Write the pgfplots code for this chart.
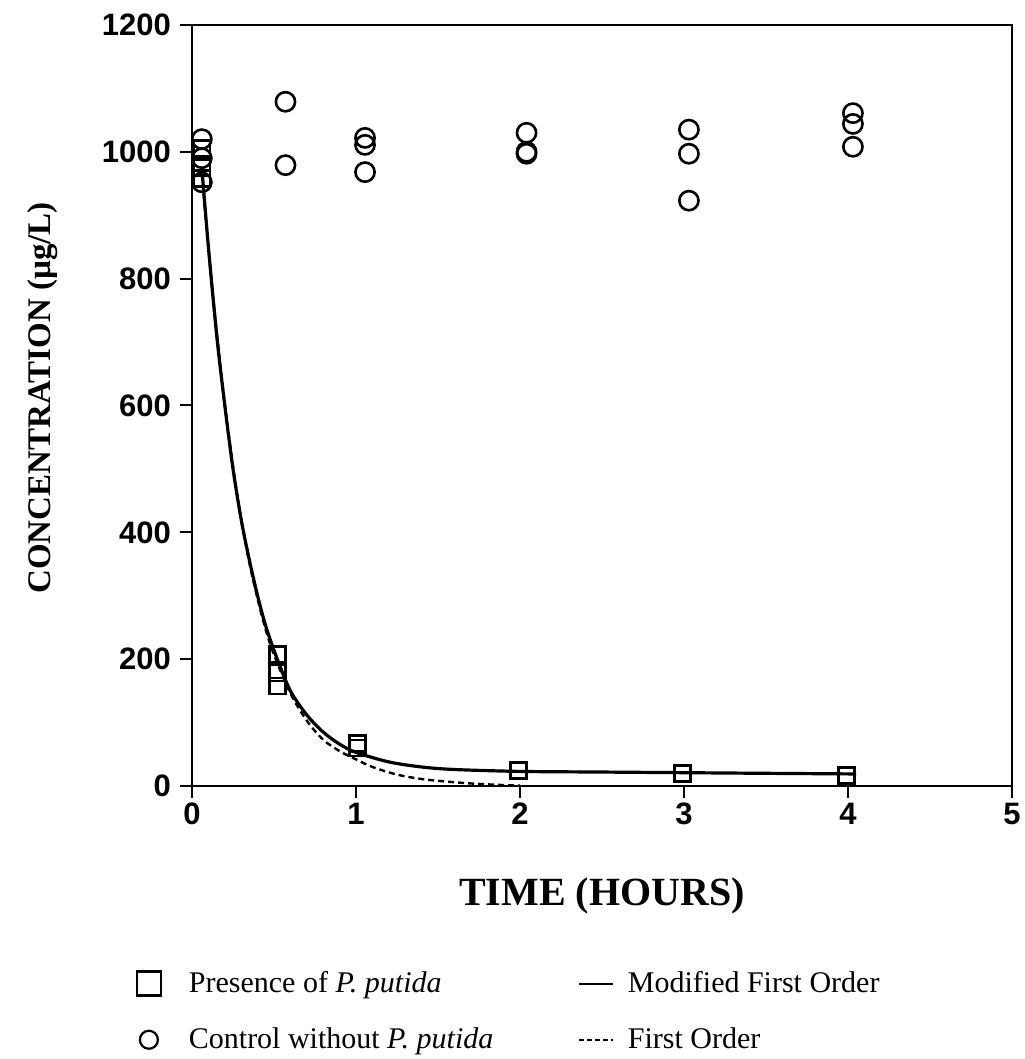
\documentclass[border=0pt]{standalone}
\usepackage{pgfplots}
\pgfplotsset{compat=1.18}
\usepackage{fontspec}
\setmainfont{Liberation Serif}
\newfontfamily\tickfont{Liberation Sans}
\begin{document}
\begin{tikzpicture}
\begin{axis}[
  scale only axis,
  width=410pt, height=380.5pt,
  xmin=0, xmax=5, ymin=0, ymax=1200,
  xtick={0,1,2,3,4,5}, ytick={0,200,400,600,800,1000,1200},
  tick pos=left, tick align=outside,
  major tick length=6pt,
  axis line style={line width=1pt},
  major tick style={line width=1pt, black},
  /pgf/number format/assume math mode=true,
  /pgf/number format/1000 sep={},
  ticklabel style={font=\tickfont\bfseries\fontsize{15.5}{15.5}\selectfont},
  xticklabel style={yshift=1pt},
  yticklabel style={xshift=-1pt},
  xlabel={TIME (HOURS)},
  ylabel={CONCENTRATION (µg/L)},
  xlabel style={font=\bfseries\fontsize{20}{20}\selectfont, at={(axis description cs:0.5,-0.145)}, anchor=center},
  ylabel style={font=\bfseries\fontsize{16.5}{16.5}\selectfont, at={(axis description cs:-0.182,0.51)}, anchor=center},
  legend columns=2,
  legend cell align=left,
  legend style={draw=none, fill=none, at={(axis description cs:-0.075,-0.233)}, anchor=north west,
    font=\fontsize{15}{15}\selectfont, row sep=12pt,
    /tikz/column 1/.style={column sep=12pt},
    /tikz/column 2/.style={column sep=40pt},
    /tikz/column 3/.style={column sep=5pt}},
  clip=false,
]
% Presence of P. putida (squares)
\addplot[only marks, mark=square, mark size=4pt, mark options={line width=1.3pt}, forget plot] coordinates {
 (0.06,1005) (0.06,975) (0.06,958)
 (0.52,207) (0.52,178) (0.52,158)
 (1.01,67) (1.01,60)
 (1.99,24) (2.99,20) (3.99,17)
};
% Control without P. putida (circles)
\addplot[only marks, mark=o, mark size=4.8pt, mark options={line width=1.3pt}, forget plot] coordinates {
 (0.06,1020) (0.06,990) (0.06,952)
 (0.57,1079) (0.57,979)
 (1.055,1022) (1.055,1011) (1.055,968)
 (2.04,1030) (2.04,1000) (2.04,997)
 (3.03,1035) (3.03,997) (3.03,923)
 (4.03,1061) (4.03,1044) (4.03,1008)
};
% Modified first order (solid)
\addplot[smooth, line width=1.6pt, no marks, forget plot] coordinates {
 (0.06,975) (0.10,850) (0.15,712) (0.20,600) (0.25,500) (0.30,420)
 (0.35,356) (0.40,300) (0.45,252) (0.52,200) (0.60,150) (0.70,112)
 (0.80,85) (0.90,66) (1.00,53) (1.20,38) (1.40,30) (1.60,26)
 (2.00,23) (2.50,22) (3.00,21) (3.50,20) (4.05,19)
};
% First order (dashed)
\addplot[smooth, line width=1.2pt, dash pattern=on 3pt off 2pt, no marks, forget plot] coordinates {
 (0.06,965) (0.10,848) (0.15,718) (0.20,603) (0.25,505) (0.30,420)
 (0.35,352) (0.40,295) (0.45,246) (0.50,207) (0.60,146) (0.70,103)
 (0.80,73) (0.90,55) (1.00,42) (1.10,30) (1.25,18) (1.40,11)
 (1.55,7) (1.70,4) (1.85,2) (2.00,0.5)
};
\addlegendimage{only marks, mark=square, mark size=6pt, mark options={line width=1.3pt}}
\addlegendentry{Presence of \textit{P. putida}}
\addlegendimage{line width=1.2pt}
\addlegendentry{Modified First Order}
\addlegendimage{only marks, mark=o, mark size=4.5pt, mark options={line width=1.1pt}}
\addlegendentry{Control without \textit{P. putida}}
\addlegendimage{line width=1.2pt, dash pattern=on 2.5pt off 1.5pt}
\addlegendentry{First Order}
\end{axis}
\pgfresetboundingbox
\path[use as bounding box] (-96pt,-136.5pt) rectangle (416pt,393pt);
\end{tikzpicture}
\end{document}
